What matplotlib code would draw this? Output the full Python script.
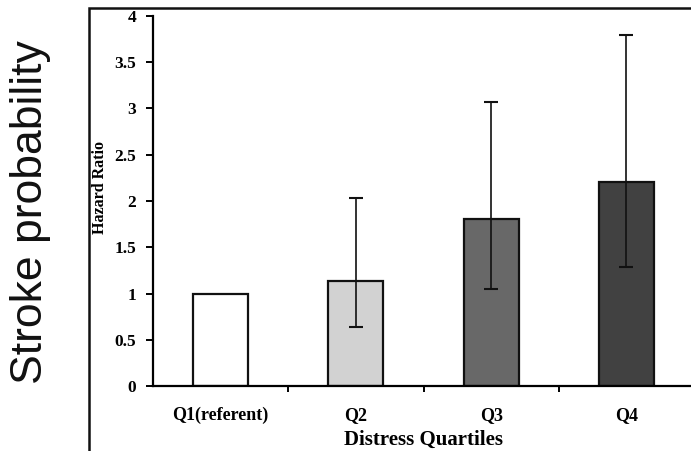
import matplotlib
matplotlib.use("Agg")
import matplotlib.pyplot as plt
from matplotlib.patches import Rectangle
from matplotlib.ticker import FixedLocator

categories = ["Q1(referent)", "Q2", "Q3", "Q4"]
hazard_ratio = [1.0, 1.14, 1.80, 2.21]
ci_lower = [None, 0.64, 1.05, 1.29]
ci_upper = [None, 2.03, 3.07, 3.79]
bar_colors = ["#ffffff", "#d2d2d2", "#686868", "#414141"]
y_ticks = [0, 0.5, 1, 1.5, 2, 2.5, 3, 3.5, 4]
y_tick_labels = ["0", "0.5", "1", "1.5", "2", "2.5", "3", "3.5", "4"]

serif = "Liberation Serif"

fig = plt.figure(figsize=(6.91, 4.51), dpi=100)
fig.patch.set_facecolor("white")

# outer frame around the chart panel
frame = Rectangle((89 / 691, -0.05), 1.0, 1.05 - 8 / 451,
                  transform=fig.transFigure, fill=False,
                  edgecolor="#111111", linewidth=1.8, clip_on=False)
fig.add_artist(frame)

ax = fig.add_axes([153 / 691, 1 - 386 / 451, 541 / 691, 370 / 451])
x = list(range(len(categories)))
ax.bar(x, hazard_ratio, width=0.405, color=bar_colors,
       edgecolor="#111111", linewidth=1.6, zorder=2)

for xi, hr, lo, hi in zip(x, hazard_ratio, ci_lower, ci_upper):
    if lo is None:
        continue
    ax.errorbar([xi], [hr], yerr=[[hr - lo], [hi - hr]], fmt="none",
                ecolor="#111111", elinewidth=1.2, capsize=5,
                capthick=1.5, zorder=3)

ax.set_xlim(-0.5, 3.5)
ax.set_ylim(0, 4)
ax.spines["top"].set_visible(False)
ax.spines["right"].set_visible(False)
ax.spines["left"].set_linewidth(1.6)
ax.spines["bottom"].set_linewidth(1.6)

ax.set_yticks(y_ticks)
ax.set_yticklabels(y_tick_labels, fontfamily=serif, fontweight="bold",
                   fontsize=12.5)
ax.tick_params(axis="y", direction="out", length=5, width=1.4, pad=7)

ax.set_xticks(x)
ax.set_xticklabels(categories, fontfamily=serif, fontweight="bold",
                   fontsize=13)
ax.tick_params(axis="x", which="major", length=0, pad=15)
ax.xaxis.set_minor_locator(FixedLocator([0.5, 1.5, 2.5]))
ax.tick_params(axis="x", which="minor", direction="out", length=4,
               width=1.4)

ax.set_ylabel("Hazard Ratio", fontfamily=serif, fontweight="bold",
              fontsize=11.5, va="center")
ax.yaxis.set_label_coords(-(153 - 100) / 541, (386 - 187) / 370)
ax.set_xlabel("Distress Quartiles", fontfamily=serif, fontweight="bold",
              fontsize=15, va="center")
ax.xaxis.set_label_coords(0.5, -(440 - 386) / 370)

fig.text(31 / 691, 1 - 212 / 451, "Stroke probability", rotation=90,
         ha="center", va="center", fontfamily="Liberation Sans",
         fontsize=32, color="#111111")

fig.savefig("out.png", dpi=100)
